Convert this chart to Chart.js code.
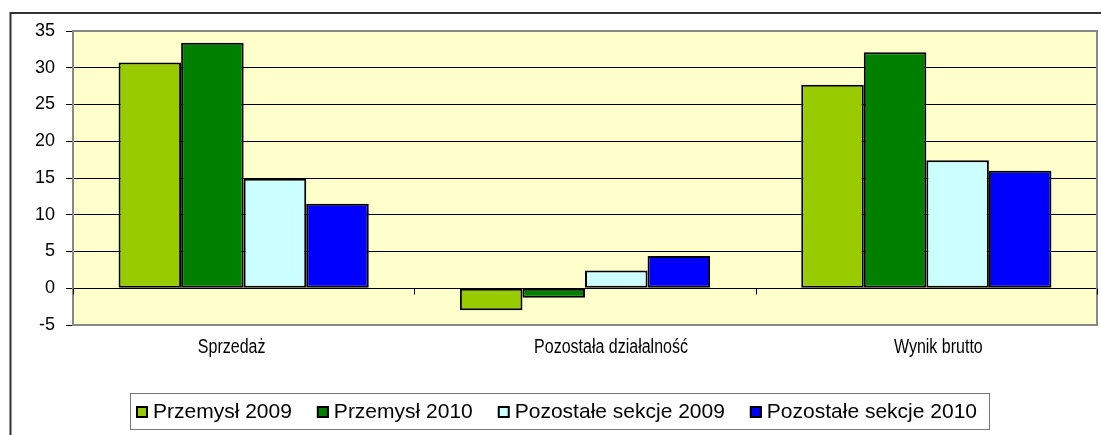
<!DOCTYPE html>
<html>
<head>
<meta charset="utf-8">
<script src="https://cdn.jsdelivr.net/npm/chart.js@4"></script>
<style>
  html, body { margin: 0; padding: 0; background: #fff; }
  #wrap { width: 1101px; height: 435px; }
</style>
</head>
<body>
<div id="wrap"><canvas id="chart" width="1101" height="435"></canvas></div>
<script>
'use strict';

const categories = ['Sprzedaż', 'Pozostała działalność', 'Wynik brutto'];
const seriesNames = ['Przemysł 2009', 'Przemysł 2010', 'Pozostałe sekcje 2009', 'Pozostałe sekcje 2010'];
const przemysl2009 = [30.7, -3.0, 27.7];
const przemysl2010 = [33.4, -1.3, 32.1];
const pozostale2009 = [14.9, 2.4, 17.4];
const pozostale2010 = [11.5, 4.4, 16.0];
const yTicks = [-5, 0, 5, 10, 15, 20, 25, 30, 35];

const colors = ['#99CC00', '#008000', '#CCFFFF', '#0000FF'];
const FONT = "'Liberation Sans', Arial, sans-serif";
// przesunięcia podpisów jak w oryginale (Excel rozkłada je nierówno)
const labelNudge = [-12, 26, 12];

// tło, ramka wykresu i obszaru kreślenia
const framePlugin = {
    id: 'frame',
    beforeDraw(chart) {
        const { ctx, chartArea: a } = chart;
        ctx.save();
        ctx.fillStyle = '#fff';
        ctx.fillRect(0, 0, chart.width, chart.height);
        ctx.strokeStyle = '#333';
        ctx.lineWidth = 2;
        ctx.beginPath();
        ctx.moveTo(10.5, chart.height);
        ctx.lineTo(10.5, 13);
        ctx.lineTo(chart.width, 13);
        ctx.stroke();
        ctx.fillStyle = '#FFFFCC';
        ctx.fillRect(a.left, a.top, a.right - a.left, a.bottom - a.top);
        ctx.restore();
    },
    beforeDatasetsDraw(chart) {
        const { ctx, chartArea: a, scales } = chart;
        ctx.save();
        ctx.strokeStyle = '#888';
        ctx.lineWidth = 2;
        ctx.strokeRect(a.left, a.top, a.right - a.left, a.bottom - a.top);
        // znaczniki podziału kategorii na osi zero
        const y0 = Math.round(scales.y.getPixelForValue(0)) + 0.5;
        ctx.strokeStyle = '#000';
        ctx.lineWidth = 1;
        const n = categories.length;
        for (let i = 0; i <= n; i++) {
            let x;
            if (i === 0) x = a.left;
            else if (i === n) x = a.right;
            else x = (scales.x.getPixelForValue(i - 1) + scales.x.getPixelForValue(i)) / 2;
            x = Math.round(x) + 0.5;
            ctx.beginPath();
            ctx.moveTo(x, y0);
            ctx.lineTo(x, y0 + 6);
            ctx.stroke();
        }
        ctx.restore();
    },
    afterDraw(chart) {
        const { ctx, chartArea: a, scales } = chart;
        ctx.save();
        // podpisy kategorii (zwężone jak w oryginale)
        ctx.font = '20px ' + FONT;
        ctx.fillStyle = '#000';
        ctx.textAlign = 'center';
        ctx.textBaseline = 'middle';
        categories.forEach((c, i) => {
            const x = scales.x.getPixelForValue(i) + labelNudge[i];
            ctx.save();
            ctx.translate(x, a.bottom + 22);
            ctx.scale(0.8, 1);
            ctx.fillText(c, 0, 0);
            ctx.restore();
        });

        // legenda w ramce
        const box = { left: 130, top: 393, right: 989, bottom: 429 };
        ctx.textAlign = 'left';
        ctx.strokeStyle = '#777';
        ctx.lineWidth = 1;
        ctx.strokeRect(box.left + 0.5, box.top + 0.5, box.right - box.left, box.bottom - box.top);
        ctx.font = '21px ' + FONT;
        const mk = 12, gapM = 5;
        const widths = chart.data.datasets.map(d => ctx.measureText(d.label).width);
        const inner = box.right - box.left - 18;
        const used = widths.reduce((s, w) => s + w + mk + gapM, 0);
        const gapItem = (inner - used) / (widths.length - 1);
        let x = box.left + 6;
        const cy = (box.top + box.bottom) / 2 + 1;
        chart.data.datasets.forEach((d, i) => {
            ctx.fillStyle = d.backgroundColor;
            ctx.fillRect(x, cy - mk / 2, mk, mk);
            ctx.strokeStyle = '#000';
            ctx.lineWidth = 2;
            ctx.strokeRect(x + 1, cy - mk / 2 + 1, mk - 2, mk - 2);
            ctx.fillStyle = '#000';
            ctx.fillText(d.label, x + mk + gapM, cy);
            x += mk + gapM + widths[i] + gapItem;
        });
        ctx.restore();
    }
};

const seriesData = [przemysl2009, przemysl2010, pozostale2009, pozostale2010];

new Chart(document.getElementById('chart').getContext('2d'), {
    type: 'bar',
    data: {
        labels: categories,
        datasets: seriesData.map((values, i) => ({
            label: seriesNames[i],
            data: values,
            backgroundColor: colors[i],
            borderColor: '#000',
            borderWidth: 2,
            borderSkipped: false,
            categoryPercentage: 0.733,
            barPercentage: 1.0
        }))
    },
    options: {
        responsive: false,
        animation: false,
        devicePixelRatio: 1,
        layout: { padding: { left: 0, top: 31, right: 4, bottom: 0 } },
        plugins: {
            legend: { display: false },
            tooltip: { enabled: false }
        },
        scales: {
            x: {
                grid: { display: false, drawTicks: false },
                border: { display: false },
                ticks: { display: false },
                afterFit(scale) { scale.height = 110; }
            },
            y: {
                min: yTicks[0],
                max: yTicks[yTicks.length - 1],
                afterBuildTicks(scale) { scale.ticks = yTicks.map(v => ({ value: v })); },
                grid: { color: '#000', lineWidth: 1, tickLength: 7, tickColor: '#000' },
                border: { display: false },
                ticks: { color: '#000', font: { family: FONT, size: 18 }, padding: 11 },
                afterFit(scale) { scale.width = 73; }
            }
        }
    },
    plugins: [framePlugin]
});
</script>
</body>
</html>
